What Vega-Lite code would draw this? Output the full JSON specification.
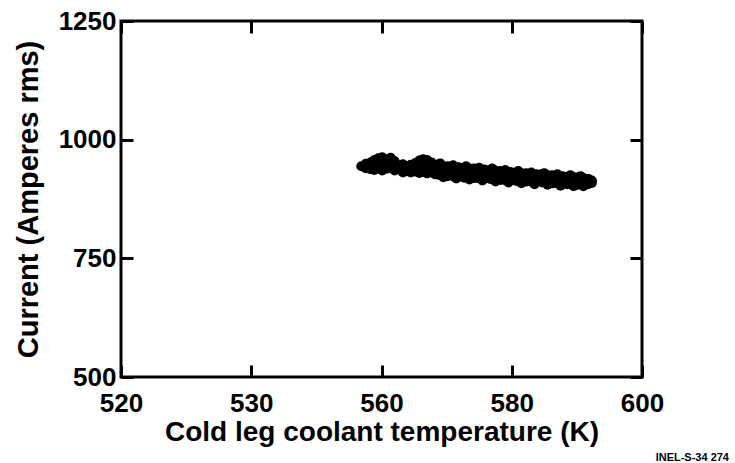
{
  "$schema": "https://vega.github.io/schema/vega-lite/v6.json",
  "width": 521,
  "height": 356,
  "autosize": {"type": "none"},
  "padding": {"left": 121, "top": 21, "right": 93, "bottom": 86},
  "background": "white",
  "config": {
    "view": {"stroke": "black", "strokeWidth": 3},
    "font": "Liberation Sans",
    "axis": {
      "domain": false,
      "grid": false,
      "tickColor": "black",
      "tickWidth": 3,
      "tickSize": -12,
      "labelFont": "Liberation Sans",
      "labelFontWeight": "bold",
      "labelFontSize": 26,
      "labelColor": "black",
      "labelFlush": false,
      "labelOverlap": false,
      "titleFont": "Liberation Sans",
      "titleFontWeight": "bold",
      "titleColor": "black"
    }
  },
  "title": {
    "text": "INEL-S-34 274",
    "orient": "bottom",
    "anchor": "end",
    "frame": "group",
    "font": "Liberation Sans",
    "fontSize": 11,
    "fontWeight": "bold",
    "color": "black",
    "offset": 6,
    "dx": 87
  },
  "data": {
    "values": [
      {"temp": 556.9, "amps": 944},
      {"temp": 557.6, "amps": 940}, {"temp": 557.6, "amps": 949},
      {"temp": 558.3, "amps": 952}, {"temp": 558.3, "amps": 938},
      {"temp": 558.9, "amps": 957}, {"temp": 558.9, "amps": 946}, {"temp": 558.9, "amps": 936},
      {"temp": 559.5, "amps": 961}, {"temp": 559.5, "amps": 951}, {"temp": 559.5, "amps": 940},
      {"temp": 560.1, "amps": 963}, {"temp": 560.1, "amps": 954}, {"temp": 560.1, "amps": 945}, {"temp": 560.1, "amps": 935},
      {"temp": 560.8, "amps": 959}, {"temp": 560.8, "amps": 949}, {"temp": 560.8, "amps": 939},
      {"temp": 561.4, "amps": 962}, {"temp": 561.4, "amps": 952}, {"temp": 561.4, "amps": 942},
      {"temp": 562.0, "amps": 955}, {"temp": 562.0, "amps": 945}, {"temp": 562.0, "amps": 935},
      {"temp": 562.7, "amps": 946}, {"temp": 562.7, "amps": 937},
      {"temp": 563.3, "amps": 948}, {"temp": 563.3, "amps": 939}, {"temp": 563.3, "amps": 931},
      {"temp": 563.9, "amps": 944}, {"temp": 563.9, "amps": 935},
      {"temp": 564.5, "amps": 947}, {"temp": 564.5, "amps": 939}, {"temp": 564.5, "amps": 931},
      {"temp": 565.2, "amps": 951}, {"temp": 565.2, "amps": 942}, {"temp": 565.2, "amps": 933},
      {"temp": 565.8, "amps": 956}, {"temp": 565.8, "amps": 946}, {"temp": 565.8, "amps": 937}, {"temp": 565.8, "amps": 930},
      {"temp": 566.4, "amps": 959}, {"temp": 566.4, "amps": 950}, {"temp": 566.4, "amps": 941}, {"temp": 566.4, "amps": 932},
      {"temp": 567.0, "amps": 957}, {"temp": 567.0, "amps": 947}, {"temp": 567.0, "amps": 938}, {"temp": 567.0, "amps": 929},
      {"temp": 567.7, "amps": 952}, {"temp": 567.7, "amps": 942}, {"temp": 567.7, "amps": 932},
      {"temp": 568.2, "amps": 946}, {"temp": 568.2, "amps": 936}, {"temp": 568.2, "amps": 927},
      {"temp": 568.6, "amps": 947}, {"temp": 568.8, "amps": 940}, {"temp": 568.5, "amps": 932}, {"temp": 568.7, "amps": 926},
      {"temp": 569.4, "amps": 945}, {"temp": 569.6, "amps": 937}, {"temp": 569.3, "amps": 931}, {"temp": 569.5, "amps": 924},
      {"temp": 570.2, "amps": 944}, {"temp": 570.0, "amps": 938}, {"temp": 570.3, "amps": 929}, {"temp": 570.1, "amps": 923},
      {"temp": 571.0, "amps": 943}, {"temp": 571.2, "amps": 935}, {"temp": 570.9, "amps": 928}, {"temp": 571.1, "amps": 922},
      {"temp": 571.8, "amps": 942}, {"temp": 571.6, "amps": 934}, {"temp": 571.9, "amps": 927}, {"temp": 571.7, "amps": 921},
      {"temp": 572.6, "amps": 941}, {"temp": 572.8, "amps": 933}, {"temp": 572.5, "amps": 926}, {"temp": 572.7, "amps": 920},
      {"temp": 573.4, "amps": 940}, {"temp": 573.2, "amps": 932}, {"temp": 573.5, "amps": 925}, {"temp": 573.3, "amps": 920},
      {"temp": 574.2, "amps": 939}, {"temp": 574.4, "amps": 931}, {"temp": 574.1, "amps": 925}, {"temp": 574.3, "amps": 919},
      {"temp": 575.0, "amps": 938}, {"temp": 575.2, "amps": 931}, {"temp": 574.9, "amps": 924}, {"temp": 575.1, "amps": 918},
      {"temp": 575.8, "amps": 937}, {"temp": 575.6, "amps": 930}, {"temp": 575.9, "amps": 923}, {"temp": 575.7, "amps": 917},
      {"temp": 576.6, "amps": 936}, {"temp": 576.8, "amps": 929}, {"temp": 576.5, "amps": 922}, {"temp": 576.7, "amps": 917},
      {"temp": 577.4, "amps": 935}, {"temp": 577.2, "amps": 928}, {"temp": 577.5, "amps": 921}, {"temp": 577.3, "amps": 916},
      {"temp": 578.2, "amps": 934}, {"temp": 578.4, "amps": 927}, {"temp": 578.1, "amps": 920}, {"temp": 578.3, "amps": 915},
      {"temp": 579.0, "amps": 933}, {"temp": 579.2, "amps": 926}, {"temp": 578.9, "amps": 919}, {"temp": 579.1, "amps": 914},
      {"temp": 579.8, "amps": 932}, {"temp": 579.6, "amps": 925}, {"temp": 579.9, "amps": 919}, {"temp": 579.7, "amps": 913},
      {"temp": 580.6, "amps": 931}, {"temp": 580.8, "amps": 925}, {"temp": 580.5, "amps": 918}, {"temp": 580.7, "amps": 913},
      {"temp": 581.4, "amps": 930}, {"temp": 581.2, "amps": 924}, {"temp": 581.5, "amps": 917}, {"temp": 581.3, "amps": 912},
      {"temp": 582.2, "amps": 929}, {"temp": 582.4, "amps": 923}, {"temp": 582.1, "amps": 916}, {"temp": 582.3, "amps": 912},
      {"temp": 583.0, "amps": 928}, {"temp": 583.2, "amps": 922}, {"temp": 582.9, "amps": 916}, {"temp": 583.1, "amps": 911},
      {"temp": 583.8, "amps": 927}, {"temp": 583.6, "amps": 921}, {"temp": 583.9, "amps": 915}, {"temp": 583.7, "amps": 910},
      {"temp": 584.6, "amps": 927}, {"temp": 584.8, "amps": 920}, {"temp": 584.5, "amps": 914}, {"temp": 584.7, "amps": 910},
      {"temp": 585.4, "amps": 926}, {"temp": 585.2, "amps": 920}, {"temp": 585.5, "amps": 914}, {"temp": 585.3, "amps": 909},
      {"temp": 586.2, "amps": 925}, {"temp": 586.4, "amps": 919}, {"temp": 586.1, "amps": 913}, {"temp": 586.3, "amps": 908},
      {"temp": 587.0, "amps": 924}, {"temp": 586.8, "amps": 918}, {"temp": 587.1, "amps": 912}, {"temp": 586.9, "amps": 908},
      {"temp": 587.8, "amps": 923}, {"temp": 588.0, "amps": 917}, {"temp": 587.7, "amps": 911}, {"temp": 587.9, "amps": 907},
      {"temp": 588.6, "amps": 922}, {"temp": 588.4, "amps": 916}, {"temp": 588.7, "amps": 911}, {"temp": 588.5, "amps": 906},
      {"temp": 589.4, "amps": 922}, {"temp": 589.6, "amps": 916}, {"temp": 589.3, "amps": 910}, {"temp": 589.5, "amps": 906},
      {"temp": 590.2, "amps": 921}, {"temp": 590.0, "amps": 915}, {"temp": 590.3, "amps": 910}, {"temp": 590.1, "amps": 905},
      {"temp": 591.0, "amps": 919}, {"temp": 591.2, "amps": 914}, {"temp": 590.9, "amps": 909}, {"temp": 591.1, "amps": 905},
      {"temp": 591.8, "amps": 917}, {"temp": 591.6, "amps": 912}, {"temp": 591.9, "amps": 908}, {"temp": 591.7, "amps": 906},
      {"temp": 592.3, "amps": 914}, {"temp": 592.3, "amps": 909},
      {"temp": 569.0, "amps": 950}, {"temp": 571.0, "amps": 946}, {"temp": 573.0, "amps": 944}, {"temp": 575.0, "amps": 941},
      {"temp": 577.0, "amps": 939}, {"temp": 579.0, "amps": 936}, {"temp": 581.0, "amps": 934}, {"temp": 583.0, "amps": 931},
      {"temp": 585.0, "amps": 929}, {"temp": 587.0, "amps": 927}, {"temp": 589.0, "amps": 925}, {"temp": 590.6, "amps": 923},
      {"temp": 569.5, "amps": 921}, {"temp": 571.5, "amps": 918}, {"temp": 573.5, "amps": 916}, {"temp": 575.5, "amps": 914},
      {"temp": 577.5, "amps": 912}, {"temp": 579.5, "amps": 910}, {"temp": 581.5, "amps": 908}, {"temp": 583.5, "amps": 906},
      {"temp": 585.5, "amps": 905}, {"temp": 587.5, "amps": 903}, {"temp": 589.5, "amps": 902}, {"temp": 591.0, "amps": 902}
    ]
  },
  "layer": [
    {
      "mark": {"type": "point", "shape": "circle", "filled": true, "size": 100, "color": "black", "opacity": 1},
      "encoding": {
        "x": {
          "field": "temp",
          "type": "quantitative",
          "scale": {"domain": [520, 600], "nice": false, "zero": false},
          "axis": {
            "orient": "bottom",
            "values": [520, 540, 560, 580, 600],
            "labelExpr": "datum.value == 540 ? '530' : datum.label",
            "labelPadding": 25,
            "title": "Cold leg coolant temperature (K)",
            "titleFontSize": 28,
            "titlePadding": 2
          }
        },
        "y": {
          "field": "amps",
          "type": "quantitative",
          "scale": {"domain": [500, 1250], "nice": false, "zero": false},
          "axis": {
            "orient": "left",
            "values": [500, 750, 1000, 1250],
            "format": "d",
            "labelPadding": 17,
            "title": "Current (Amperes rms)",
            "titleFontSize": 29,
            "titlePadding": 15
          }
        }
      }
    },
    {
      "mark": {"type": "point", "shape": "circle", "filled": true, "size": 100, "opacity": 0},
      "encoding": {
        "x": {
          "field": "temp",
          "type": "quantitative",
          "scale": {"domain": [520, 600], "nice": false, "zero": false},
          "axis": {"orient": "top", "values": [520, 540, 560, 580, 600], "labels": false, "title": null}
        },
        "y": {
          "field": "amps",
          "type": "quantitative",
          "scale": {"domain": [500, 1250], "nice": false, "zero": false},
          "axis": {"orient": "right", "values": [500, 750, 1000, 1250], "labels": false, "title": null}
        }
      }
    }
  ],
  "resolve": {"axis": {"x": "independent", "y": "independent"}}
}
